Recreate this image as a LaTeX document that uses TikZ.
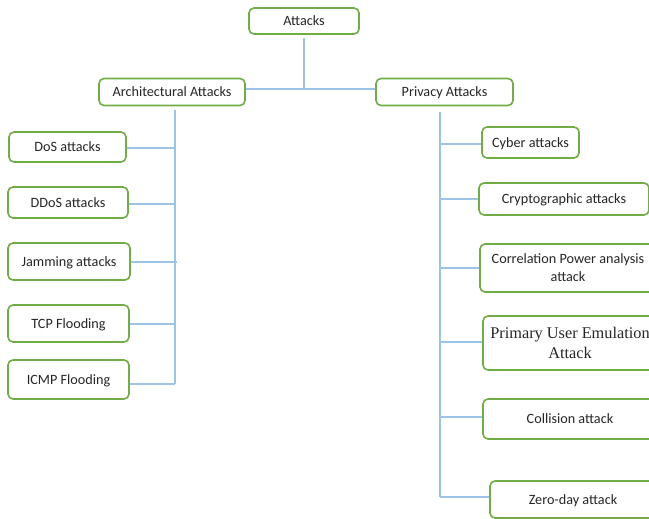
\documentclass[tikz,border=0pt]{standalone}
\usepackage{fontspec}
\setmainfont{Carlito}
\newfontfamily\timesf{Liberation Serif}
\definecolor{boxgreen}{HTML}{70AD47}
\definecolor{lineblue}{HTML}{9DC3E6}
\definecolor{txt}{HTML}{262626}
\begin{document}
\begin{tikzpicture}[x=1pt,y=-1pt,
  abox/.style={draw=boxgreen,line width=1.6pt,rounded corners=5pt,fill=white,text=txt,
    font=\fontsize{14.2}{18}\selectfont,inner sep=0pt,align=center,text depth=0pt},
  conn/.style={draw=lineblue,line width=1.2pt}]
\useasboundingbox (0,0) rectangle (649,519);
\clip (0,0) rectangle (649,519);
% top
\node[abox,minimum width=110pt,minimum height=26pt] (att) at (304,21) {Attacks};
\node[abox,minimum width=146pt,minimum height=27pt] (arch) at (172,92) {Architectural Attacks};
\node[abox,minimum width=137pt,minimum height=27pt] (priv) at (444.5,92) {Privacy Attacks};
\coordinate (tj) at (304,89);
\draw[conn] (304,38) -- (tj);
\draw[conn] (arch.east |- tj) -- (priv.west |- tj);
% left trunk
\coordinate (lt) at (175,110);
\coordinate (lb) at (175,384);
\draw[conn] (lt) -- (lb);
\node[abox,minimum width=117pt,minimum height=30pt] (dos) at (67.5,147) {DoS attacks};
\node[abox,minimum width=120pt,minimum height=31pt] (ddos) at (68,202.5) {DDoS attacks};
\node[abox,minimum width=122pt,minimum height=37pt] (jam) at (69,261.5) {Jamming attacks};
\node[abox,minimum width=121pt,minimum height=37pt] (tcp) at (68.5,323.5) {TCP Flooding};
\node[abox,minimum width=121pt,minimum height=39pt] (icmp) at (68.5,379.5) {ICMP Flooding};
\draw[conn] (dos.east |- 0,148) -- (175,148);
\draw[conn] (ddos.east |- 0,204) -- (175,204);
\draw[conn] (jam.east |- 0,262) -- (177,262);
\draw[conn] (tcp.east |- 0,324) -- (175,324);
\draw[conn] (icmp.east |- lb) -- (lb);
% right trunk
\coordinate (rt) at (440,112);
\coordinate (rb) at (440,497);
\draw[conn] (rt) -- (rb);
\node[abox,minimum width=97pt,minimum height=31pt] (cyb) at (530.5,142.5) {Cyber attacks};
\node[abox,minimum width=170pt,minimum height=32pt] (cry) at (564,199) {Cryptographic attacks};
\node[abox,minimum width=176pt,minimum height=48pt] (cor) at (568,268) {Correlation Power analysis\\attack};
\node[abox,minimum width=174pt,minimum height=54pt,font=\timesf\fontsize{16.3}{20}\selectfont] (pue) at (570,343) {Primary User Emulation\\Attack};
\node[abox,minimum width=174pt,minimum height=40pt] (col) at (570,419) {Collision attack};
\node[abox,minimum width=166pt,minimum height=37pt] (zer) at (573,499.5) {Zero-day attack};
\draw[conn] (cyb.west |- 0,144) -- (440,144);
\draw[conn] (cry.west |- 0,199) -- (440,199);
\draw[conn] (cor.west |- 0,268) -- (440,268);
\draw[conn] (pue.west |- 0,342) -- (440,342);
\draw[conn] (col.west |- 0,417) -- (440,417);
\draw[conn] (zer.west |- rb) -- (rb);
\end{tikzpicture}
\end{document}
